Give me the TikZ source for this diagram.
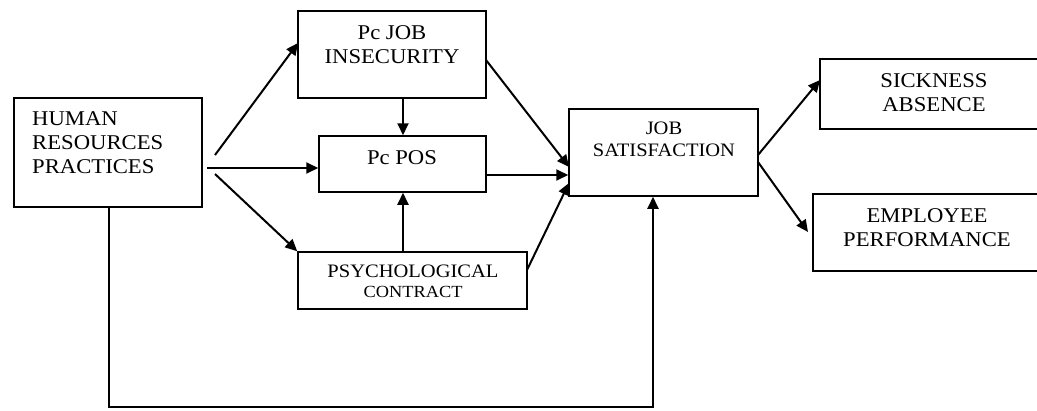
\documentclass[tikz,border=0pt]{standalone}
\usepackage{fontspec}
\setmainfont{Liberation Serif}[FakeStretch=1.08]
\usetikzlibrary{arrows.meta,calc}

\begin{document}
\begin{tikzpicture}[x=1pt,y=-1pt,
  box/.style={draw,line width=1.5pt,rectangle,inner sep=0pt},
  txt/.style={inner sep=0pt,align=center},
  conn/.style={line width=2pt,-{Triangle[length=12pt,width=11pt]}}]
\useasboundingbox (0,0) rectangle (1037,410);
\clip (0,0) rectangle (1037,410);

% boxes
\node[box,minimum width=188pt,minimum height=109pt] (hrp) at (108,152.5) {};
\node[box,minimum width=188pt,minimum height=87pt] (jobins) at (392,54.5) {};
\node[box,minimum width=167pt,minimum height=56pt] (pos) at (402.5,164) {};
\node[box,minimum width=229pt,minimum height=57pt] (psych) at (412.5,280.5) {};
\node[box,minimum width=189pt,minimum height=87pt] (js) at (663.5,152.5) {};
\node[box,minimum width=225pt,minimum height=70pt] (sick) at (932.5,94) {};
\node[box,minimum width=232pt,minimum height=77pt] (emp) at (929,232.5) {};

% labels
\node[txt,align=left,anchor=west,font=\fontsize{21}{24}\selectfont] (hrpT) at (32,143) {HUMAN\\RESOURCES\\PRACTICES};
\node[txt,font=\fontsize{21}{24}\selectfont] (jobinsT) at (392,44.4) {Pc JOB\\INSECURITY};
\node[txt,anchor=base,font=\fontsize{21}{24}\selectfont] (posT) at (402,164) {Pc POS};
\node[txt,font=\fontsize{17}{20}\selectfont] (psychT) at (413,281.7) {{\fontsize{19}{20}\selectfont PSYCHOLOGICAL}\\CONTRACT};
\node[txt,font=\fontsize{19}{22}\selectfont] (jsT) at (664,139.7) {JOB\\SATISFACTION};
\node[txt,font=\fontsize{21}{24.5}\selectfont] (sickT) at (934,92.5) {SICKNESS\\ABSENCE};
\node[txt,font=\fontsize{21}{24}\selectfont] (empT) at (927,228) {EMPLOYEE\\PERFORMANCE};

% free ends of connectors
\coordinate (hA) at (215,155);
\coordinate (hB) at (207,168);
\coordinate (hC) at (215,174);
\coordinate (jA) at (298,43);
\coordinate (vX) at (403,0);
\coordinate (iA) at (486,60);
\coordinate (pA) at (486,175);
\coordinate (cA) at (527,270);
\coordinate (sA) at (569,167);
\coordinate (sC) at (569,183);
\coordinate (oA) at (758,155);
\coordinate (oB) at (758,162);
\coordinate (eA) at (808,232);
\coordinate (kA) at (820,80);
\coordinate (hD) at (109,207);
\coordinate (bL) at (109,407);
\coordinate (bR) at (653,407);

% connectors
\draw[conn] (hA) -- (jA);
\draw[conn] (hB) -- (hB -| pos.west);
\draw[conn] (hC) -- (psych.north west);
\draw[conn] (vX |- jobins.south) -- (vX |- pos.north);
\draw[conn] (vX |- psych.north) -- (vX |- pos.south);
\draw[conn] (iA) -- (sA);
\draw[conn] (pA) -- (pA -| js.west);
\draw[conn] (cA) -- (sC);
\draw[conn] (oA) -- (kA);
\draw[conn] (oB) -- (eA);
\draw[conn] (hD) -- (bL) -- (bR) -- (bR |- js.south);
\end{tikzpicture}
\end{document}
